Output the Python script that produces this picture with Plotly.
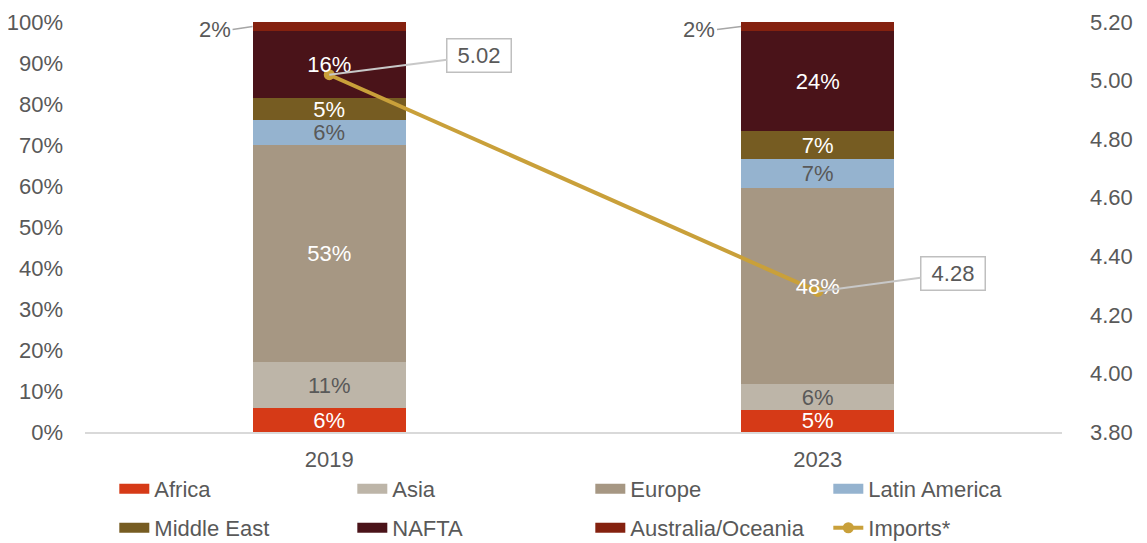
import plotly.graph_objects as go

years = ["2019", "2023"]
regions = ["Africa", "Asia", "Europe", "Latin America", "Middle East", "NAFTA", "Australia/Oceania"]
africa = [5.8, 5.4]
asia = [11.3, 6.2]
europe = [53.0, 47.9]
latin_america = [5.9, 7.1]
middle_east = [5.4, 6.8]
nafta = [16.4, 24.4]
australia = [2.2, 2.2]
imports = [5.02, 4.28]

series = [africa, asia, europe, latin_america, middle_east, nafta, australia]
colors = ["#D63A17", "#BDB5A8", "#A69783", "#95B3CF", "#765C22", "#4A1319", "#84210F"]
label_colors = ["white", "#595959", "white", "#595959", "white", "white", "white"]
line_color = "#C9A03A"
grey = "#595959"
FONT = "Liberation Sans, Arial, sans-serif"
FS = 22

xpos = list(range(len(years)))

fig = go.Figure()
# coloured stacked bars
for name, vals, col in zip(regions, series, colors):
    fig.add_trace(go.Bar(
        x=xpos, y=vals, name=name, marker=dict(color=col, line=dict(width=0)),
        showlegend=False, hoverinfo="skip",
    ))

# imports line (drawn over the bars)
fig.add_trace(go.Scatter(
    x=xpos, y=imports, name="Imports*", yaxis="y2", mode="lines+markers",
    line=dict(color=line_color, width=4), marker=dict(size=11, color=line_color),
    showlegend=False,
))

# transparent copy of the bars carrying the labels, drawn on top of the line
for name, vals, lc in zip(regions, series, label_colors):
    show_text = name != "Australia/Oceania"
    fig.add_trace(go.Bar(
        x=xpos, y=vals, name=name, yaxis="y3",
        marker=dict(color="rgba(0,0,0,0)", line=dict(width=0)),
        text=[f"{v:.0f}%" for v in vals] if show_text else None,
        textposition="inside" if show_text else "none",
        insidetextanchor="middle", textangle=0, constraintext="none",
        textfont=dict(color=lc, size=FS, family=FONT),
        showlegend=False, hoverinfo="skip",
    ))

# legend entries (swatches)
for i, (name, col) in enumerate(zip(regions, colors)):
    fig.add_trace(go.Scatter(
        x=[None], y=[None], name=name, mode="lines",
        line=dict(color=col, width=11),
        legend="legend" if i < 4 else "legend2",
    ))
fig.add_trace(go.Scatter(
    x=[None], y=[None], name="Imports*", mode="lines+markers", yaxis="y2",
    line=dict(color=line_color, width=4), marker=dict(size=11, color=line_color),
    legend="legend2",
))

# data label callouts for imports
for xp, v, ax, ay in zip(xpos, imports, [150, 135], [-19, -18]):
    fig.add_annotation(
        x=xp, y=v, yref="y2", text=f"{v:.2f}", showarrow=True,
        ax=ax, ay=ay, arrowhead=0, arrowwidth=2, arrowcolor="#C8C8C8",
        bordercolor="#BFBFBF", borderwidth=1.5, borderpad=3, bgcolor="white",
        font=dict(size=FS, color=grey, family=FONT), width=57, height=26,
    )

# outside labels for the small top segment
bar_half = 0.157
for xp, ax in zip(xpos, [-20, -24]):
    below = sum(s[xp] for s in series[:-1])
    top = australia[xp]
    fig.add_annotation(
        x=xp - bar_half, y=below + top / 2, text=f"{top:.0f}%", showarrow=True,
        ax=ax, ay=3, arrowhead=0, arrowwidth=1.5, arrowcolor="#A6A6A6",
        font=dict(size=FS, color=grey, family=FONT), xanchor="right",
    )

legend_common = dict(
    orientation="h", entrywidth=193, entrywidthmode="pixels", traceorder="normal",
    font=dict(size=FS, color=grey, family=FONT), bgcolor="rgba(0,0,0,0)",
    itemclick=False, itemdoubleclick=False, xanchor="left", yanchor="middle",
)

# page body has an 8px default margin, so the figure is sized to fill the rest of the window
fig.update_layout(
    width=1139, height=535,
    margin=dict(l=77, r=85, t=14, b=111, autoexpand=False),
    paper_bgcolor="white", plot_bgcolor="white",
    barmode="stack", bargap=0.687,
    font=dict(family=FONT, size=FS, color=grey),
    xaxis=dict(range=[-0.5, len(years) - 0.5], tickvals=xpos, ticktext=years,
               showgrid=False, zeroline=False, showline=True, linecolor="#D9D9D9",
               linewidth=2, ticks="", tickfont=dict(size=FS, color=grey),
               ticklabelstandoff=7, automargin=False),
    yaxis=dict(range=[0, 100], dtick=10, ticksuffix="%", showgrid=False, zeroline=False,
               showline=False, tickfont=dict(size=FS, color=grey),
               ticklabelstandoff=21, automargin=False),
    yaxis2=dict(range=[3.8, 5.2], dtick=0.2, tickformat=".2f", overlaying="y", side="right",
                showgrid=False, zeroline=False, showline=False,
                tickfont=dict(size=FS, color=grey), ticklabelstandoff=27, automargin=False),
    yaxis3=dict(range=[0, 100], overlaying="y", visible=False, automargin=False),
    legend=dict(x=0.030, y=-0.139, **legend_common),
    legend2=dict(x=0.030, y=-0.234, **legend_common),
    showlegend=True,
)

fig.write_html("out.html")
